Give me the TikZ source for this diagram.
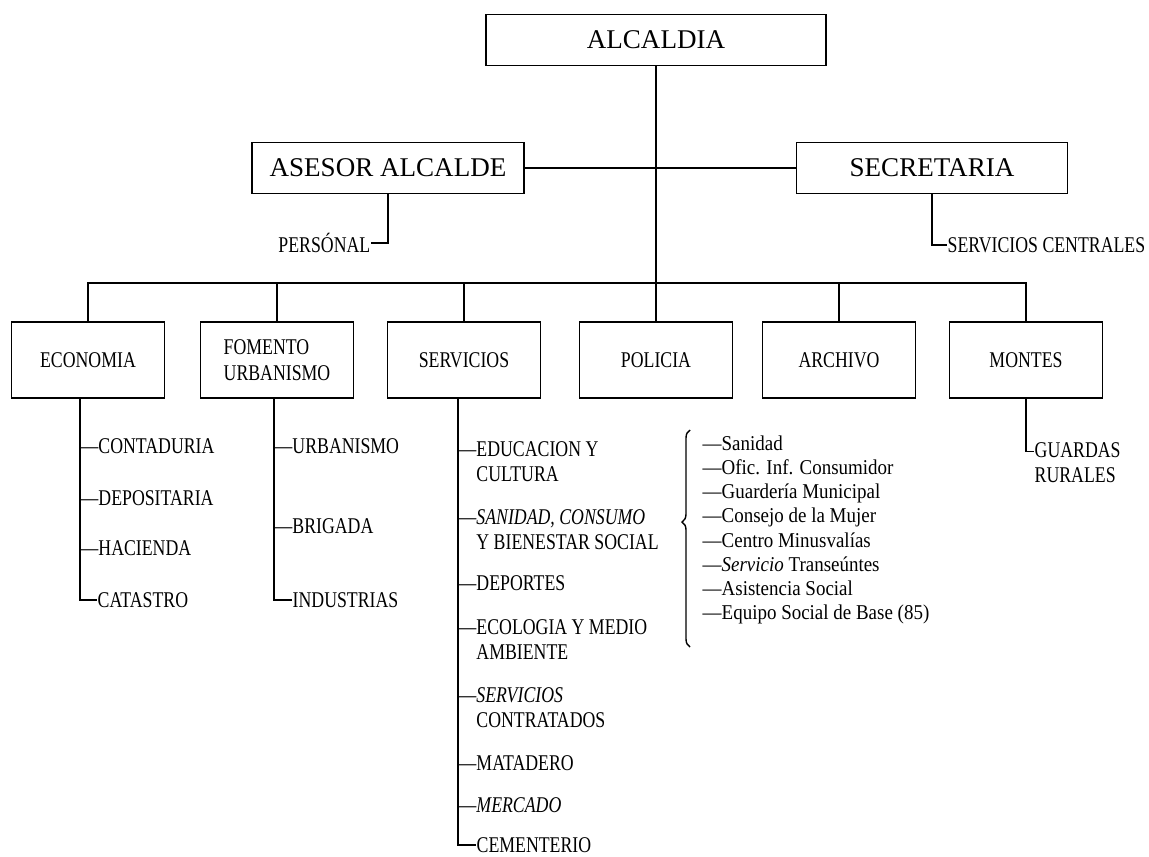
\documentclass[tikz,border=0pt]{standalone}
\usepackage{fontspec}
\setmainfont{Liberation Serif}
\newfontfamily\condfont[FakeStretch=0.79]{Liberation Serif}
\newfontfamily\bracefont[FakeStretch=0.9]{Liberation Serif}
\usetikzlibrary{calc,decorations.pathreplacing}

\begin{document}
\begin{tikzpicture}[x=0.02cm,y=-0.02cm,line width=0.8pt,
  topbox/.style={draw,inner sep=0pt,minimum height=1.03cm,font=\fontsize{15.4}{18}\selectfont},
  box/.style={draw,inner sep=0pt,minimum width=3.06cm,minimum height=1.52cm,align=left,font=\condfont\fontsize{12.8}{14.8}\selectfont},
  item/.style={anchor=west,inner sep=0pt,align=left,font=\condfont\fontsize{12.8}{14.2}\selectfont},
  sublist/.style={item,font=\bracefont\fontsize{12}{13.8}\selectfont}]
  \useasboundingbox (0,0) rectangle (1149,856);
  % alcaldia, asesor, secretaria
  \node[topbox,minimum width=6.8cm] (alc) at (656,40) {ALCALDIA};
  \node[topbox,minimum width=5.44cm] (ase) at (388,168) {ASESOR ALCALDE};
  \node[topbox,minimum width=5.42cm] (sec) at (932,168) {SECRETARIA};
  \node[item,anchor=east] (per) at (371,243) {PERSÓNAL};
  \node[item] (scen) at (947,245) {SERVICIOS CENTRALES};
  % departamentos
  \node[box] (eco) at (88,360) {ECONOMIA};
  \node[box] (fom) at (277,360) {FOMENTO\\URBANISMO};
  \node[box] (ser) at (464,360) {SERVICIOS};
  \node[box] (pol) at (656,360) {POLICIA};
  \node[box] (arc) at (839,360) {ARCHIVO};
  \node[box] (mon) at (1026,360) {MONTES};
  \coordinate (bus) at (656,283);
  \draw (alc.south) -- (pol.north);
  \draw (ase.east) -- (sec.west);
  \draw (ase.south) |- (per.east);
  \draw (sec.south) |- (scen.west);
  \draw (eco.north) |- (bus) -| (mon.north);
  \foreach \d in {fom,ser,arc}
    \draw (\d.north) -- (\d.north |- bus);
  % economia
  \coordinate (ecoT) at (80,398);
  \node[item] (cont) at (80,446) {—CONTADURIA};
  \node[item] (depo) at (80,498) {—DEPOSITARIA};
  \node[item] (haci) at (80,548) {—HACIENDA};
  \node[item] (cata) at (97,600) {CATASTRO};
  \draw (ecoT) |- (cata.west);
  % fomento
  \coordinate (fomT) at (274,398);
  \node[item] (urba) at (274,446) {—URBANISMO};
  \node[item] (brig) at (274,526) {—BRIGADA};
  \node[item] (indu) at (292,600) {INDUSTRIAS};
  \draw (fomT) |- (indu.west);
  % servicios
  \coordinate (serT) at (458,398);
  \node[item] (educ) at (458,461.5) {—EDUCACION Y\\\hphantom{—}CULTURA};
  \node[item] (sani) at (458,529.5) {—\textit{SANIDAD, CONSUMO}\\\hphantom{—}Y BIENESTAR SOCIAL};
  \node[item] (depor) at (458,583) {—DEPORTES};
  \node[item] (ecol) at (458,640) {—ECOLOGIA Y MEDIO\\\hphantom{—}AMBIENTE};
  \node[item] (scon) at (458,707.5) {—\textit{SERVICIOS}\\\hphantom{—}CONTRATADOS};
  \node[item] (mata) at (458,763) {—MATADERO};
  \node[item] (merc) at (458,805) {—\textit{MERCADO}};
  \node[item] (ceme) at (476,845) {CEMENTERIO};
  \draw (serT) |- (ceme.west);
  % bienestar social
  \node[sublist] (bien) at (702,530) {—Sanidad\\—Ofic. Inf. Consumidor\\—Guardería Municipal\\—Consejo de la Mujer\\—Centro Minusvalías\\—\textit{Servicio} Transeúntes\\—Asistencia Social\\—Equipo Social de Base (85)};
  \coordinate (bb) at (690,647);
  \coordinate (bt) at (690,430);
  \draw[decorate,decoration={brace,amplitude=0.16cm,aspect=0.576}] (bb) -- (bt);
  % montes
  \node[item] (guar) at (1034,462.5) {GUARDAS\\RURALES};
  \draw (mon.south) |- ($(guar.west)+(0,-11)$);
\end{tikzpicture}
\end{document}
